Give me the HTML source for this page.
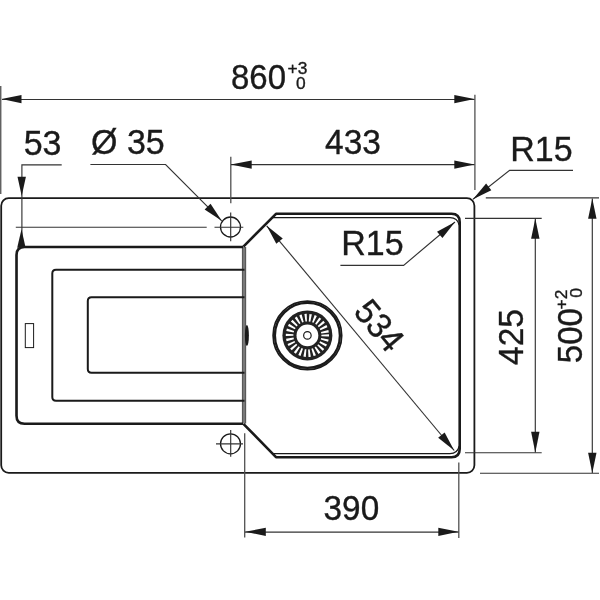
<!DOCTYPE html>
<html><head><meta charset="utf-8"><title>Sink drawing</title>
<style>
html,body{margin:0;padding:0;background:#fff;}
body{width:600px;height:600px;overflow:hidden;}
svg{display:block;will-change:transform;}
text{font-family:"Liberation Sans",sans-serif;fill:#1a1a1a;stroke:#1a1a1a;stroke-width:0.35px;}
.t{font-size:34px;}
.s{font-size:17.4px;}
.k{stroke:#1a1a1a;fill:none;}
.d{stroke:#333;stroke-width:1.15;fill:none;}
.e{stroke:#505050;stroke-width:1.3;fill:none;}
.a{fill:#1a1a1a;stroke:none;}
</style></head><body>
<svg width="600" height="600" viewBox="0 0 600 600">
<rect width="600" height="600" fill="#fff"/>

<!-- sink outer -->
<rect class="k" x="1.2" y="198.2" width="473.2" height="274.6" rx="7.5" stroke-width="1.8"/>

<!-- divider -->
<rect x="242.1" y="247" width="3.9" height="176.5" fill="#787878"/>
<path d="M242.4,247V423.5M245.7,247V423.5" stroke="#484848" stroke-width="0.8" fill="none"/>
<ellipse cx="246.9" cy="335.5" rx="2" ry="10.5" fill="#1a1a1a"/>

<!-- drainer outer -->
<path class="k" d="M243,247H24.5Q16.5,247 16.5,255V415.8Q16.5,423.8 24.5,423.8H243" stroke="#363636" stroke-width="2.6"/>
<path class="k" d="M243,247.2H24.5Q16.7,247.2 16.7,255V415.8Q16.7,423.6 24.5,423.6H243" stroke="#8a8a8a" stroke-width="0.8"/>

<!-- drainer inner rects -->
<path class="k" d="M244.5,269.8H56Q52.3,269.8 52.3,273.5V397Q52.3,400.8 56,400.8H244.5" stroke-width="2"/>
<path class="k" d="M244.5,297.2H91.5Q87.8,297.2 87.8,301V369Q87.8,372.8 91.5,372.8H244.5" stroke-width="2"/>
<rect class="k" x="25.3" y="323.6" width="8.3" height="24" stroke="#333" stroke-width="1"/>

<!-- bowl -->
<path class="k" d="M272.5,217.6H450Q457.5,217.6 459.2,225" stroke="#3a3a3a" stroke-width="1.2"/>
<path class="k" d="M272.5,453.6H450Q457.5,453.6 459.2,446" stroke="#3a3a3a" stroke-width="1.2"/>
<path class="k" d="M243.4,246.6L276,213.8H451.5Q459.7,213.8 459.7,222V449Q459.7,457.2 451.5,457.2H276L243.4,423.8" stroke-width="2.6" stroke-linejoin="round"/>

<!-- drain -->
<g transform="translate(307.4,335.4)">
<circle r="34.3" class="k" stroke="#6a6a6a" stroke-width="1.7"/>
<circle r="32.5" class="k" stroke="#1a1a1a" stroke-width="2.3"/>
<circle r="25" fill="#222"/>
<circle r="17.8" fill="none" stroke="#fff" stroke-width="7.6" stroke-dasharray="2 2.3015" transform="rotate(-3)"/>
<circle r="10.9" fill="#fff"/>
<circle r="3.75" class="k" stroke-width="1.2"/>
</g>

<!-- holes -->
<circle class="k" cx="230.5" cy="227" r="10" stroke-width="1.3"/>
<path class="d" d="M230.7,212.5V241.3M214.5,227.2H243.3" stroke-width="1"/>
<circle class="k" cx="230.5" cy="443.8" r="10" stroke-width="1.3"/>
<path class="d" d="M230.7,430V456.7M216,443.9H243" stroke-width="1"/>
<path class="d" d="M15.8,227.2H206.7" stroke-width="1"/>

<!-- extension lines -->
<path class="e" d="M0.75,86V194" stroke="#454545" stroke-width="1.5"/>
<path class="e" d="M474.9,94.7V190"/>
<path class="e" d="M230.8,156.7V203.3"/>
<path class="e" d="M244.7,433.3V537.5"/>
<path class="e" d="M458.8,462.5V538"/>
<path class="d" d="M485.8,197.9H599M480,473.2H599M465,218.3H541.7M465,452.7H541.7"/>

<!-- dim lines -->
<path class="d" d="M2,99.5H474.5"/>
<path class="d" d="M231,164.6H474.5"/>
<path class="d" d="M245,532.1H458.5"/>
<path class="d" d="M535.3,218.5V452.5"/>
<path class="d" d="M592.3,198.5V473"/>
<path class="d" d="M61.7,164.9H21.9V247"/>
<path class="d" d="M90.4,164.5H165.6L221.7,220.8"/>
<path class="d" d="M573,170.4H509.6L473,199.2"/>
<path class="d" d="M340.4,265.4H403.6L455,222"/>
<path class="d" d="M266.7,225.8L454.2,450.5"/>

<!-- arrows -->
<path class="a" d="M1.5,99.1L21.5,95v8.2z"/>
<path class="a" d="M474.5,99.1L454.3,95v8.2z"/>
<path class="a" d="M230.8,164.6L251.7,160.5v8.2z"/>
<path class="a" d="M474.5,164.6L454.3,160.5v8.2z"/>
<path class="a" d="M245,531.8L265.8,527.7v8.2z"/>
<path class="a" d="M458.5,531.8L438.3,527.7v8.2z"/>
<path class="a" d="M535.3,218.5L531.1,238.7h8.4z"/>
<path class="a" d="M535.3,452.5L531.1,431.7h8.4z"/>
<path class="a" d="M592.3,198.5L588.1,218.8h8.4z"/>
<path class="a" d="M592.3,473L588.1,452.8h8.4z"/>
<path class="a" d="M21.7,196L17.5,176.7h8.4z"/>
<path class="a" d="M21.5,229.2L17.2,247.8h8.4z"/>
<!-- angled arrows -->
<g transform="translate(221.7,220.8) rotate(45.1)"><path class="a" d="M0,0L-20,-4.2v8.4z"/></g>
<g transform="translate(473,199.2) rotate(141.8)"><path class="a" d="M0,0L-20,-4.2v8.4z"/></g>
<g transform="translate(455,222) rotate(-40.2)"><path class="a" d="M0,0L-20,-4.2v8.4z"/></g>
<g transform="translate(266.7,225.8) rotate(230.16)"><path class="a" d="M0,0L-20,-4.2v8.4z"/></g>
<g transform="translate(454.2,450.5) rotate(50.16)"><path class="a" d="M0,0L-20,-4.2v8.4z"/></g>

<!-- text -->
<text class="t" transform="translate(231.0,89.0) scale(0.97,1.035)">860</text>
<text class="s" transform="translate(287.5,74.0) scale(1,1)">+3</text>
<text class="s" transform="translate(296.0,89.0) scale(1,1)">0</text>
<text class="t" transform="translate(23.7,154.6) scale(1,1.035)">53</text>
<text class="t" transform="translate(91.0,154.4) scale(1,1.035)">Ø 35</text>
<text class="t" transform="translate(325.1,154.4) scale(0.985,1.035)">433</text>
<text class="t" transform="translate(510.3,161.0) scale(1,1.035)">R15</text>
<text class="t" transform="translate(341.3,255.0) scale(1,1.035)">R15</text>
<text class="t" transform="translate(323.6,519.9) scale(0.98,1.035)">390</text>
<g transform="translate(523.0,364.9) rotate(-90)"><text class="t" transform="translate(0.0,0.0) scale(0.985,1.035)">425</text></g>
<g transform="translate(582.4,363.2) rotate(-90)"><text class="t" transform="translate(0.0,0.0) scale(0.97,1.035)">500</text><text class="s" transform="translate(53.8,-15.0) scale(1,1)">+2</text><text class="s" transform="translate(65.4,0.0) scale(1,1)">0</text></g>
<g transform="translate(379,325) rotate(50.16)"><text class="t" transform="translate(-26.9,12.2) scale(0.97,1.035)">534</text></g>
</svg>
</body></html>
